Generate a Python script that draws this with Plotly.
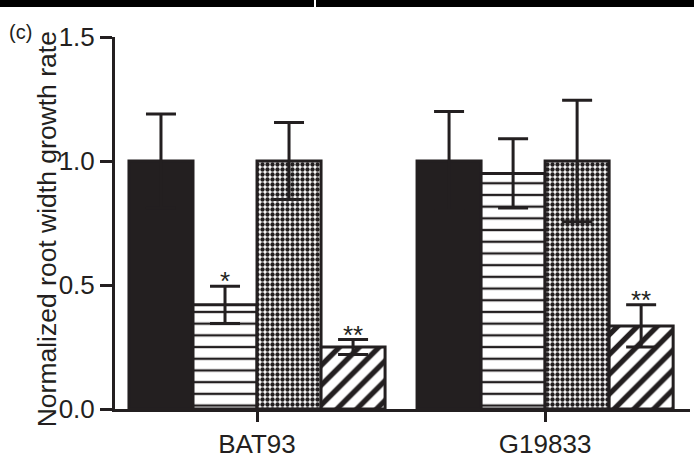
import plotly.graph_objects as go

# Data
categories = ["BAT93", "G19833"]
series_names = ["Control", "Treatment A", "Treatment B", "Treatment C"]
values = [
    [1.00, 1.00],   # solid
    [0.42, 0.95],   # horizontal lines
    [1.00, 1.00],   # checker
    [0.25, 0.335],  # diagonal hatch
]
errors = [
    [0.19, 0.20],
    [0.075, 0.14],
    [0.155, 0.245],
    [0.03, 0.085],
]
significance = [
    ["", ""],
    ["*", ""],
    ["", ""],
    ["**", "**"],
]
y_ticks = [0.0, 0.5, 1.0, 1.5]
y_ticklabels = ["0.0", "0.5", "1.0", "1.5"]

INK = "#231f20"
FONT = "Arial, Liberation Sans, Helvetica, sans-serif"

patterns = [
    dict(shape=""),
    dict(shape="-", size=11.7, solidity=0.2, fgcolor=INK, bgcolor="white", fgopacity=1),
    dict(shape=".", size=5, solidity=0.6, fgcolor=INK, bgcolor="white", fgopacity=1),
    dict(shape="/", size=14, solidity=0.38, fgcolor=INK, bgcolor="white", fgopacity=1),
]
fills = [INK, "white", "white", "white"]

x_pos = list(range(len(categories)))
bargap = 0.111
n = len(values)
bar_w = (1 - bargap) / n

fig = go.Figure()
for i in range(n):
    fig.add_trace(go.Bar(
        x=x_pos, y=values[i], name=series_names[i],
        marker=dict(color=fills[i], pattern=patterns[i],
                    line=dict(color=INK, width=3)),
        error_y=dict(type="data", array=errors[i], visible=True,
                     color=INK, thickness=3, width=15),
        showlegend=False,
    ))

annotations = []
for i in range(n):
    offset = -(1 - bargap) / 2 + bar_w * (i + 0.5)
    for j, xc in enumerate(x_pos):
        if significance[i][j]:
            annotations.append(dict(
                x=xc + offset, y=values[i][j] + errors[i][j],
                xref="x", yref="y", text=significance[i][j],
                showarrow=False, yanchor="bottom", yshift=-12,
                font=dict(size=26, color=INK, family=FONT),
            ))

# panel letter and axis title
annotations.append(dict(x=-0.1635, y=1.013, xref="paper", yref="paper",
                        xanchor="center", yanchor="middle",
                        text="(c)", showarrow=False,
                        font=dict(size=20, color=INK, family=FONT)))
annotations.append(dict(x=(47 - 115) / 575, y=(420 - 235) / 383,
                        xref="paper", yref="paper",
                        xanchor="center", yanchor="middle",
                        text="Normalized root width growth rate",
                        textangle=-90, showarrow=False,
                        font=dict(size=26.5, color=INK, family=FONT)))

# dark strip along the top edge
shapes = [
    dict(type="rect", xref="paper", yref="paper", x0=-0.21, x1=(314 - 115) / 575,
         y0=(420 - 6) / 383, y1=(420 + 2) / 383, fillcolor="black", line_width=0),
    dict(type="rect", xref="paper", yref="paper", x0=(316 - 115) / 575, x1=1.02,
         y0=(420 - 6) / 383, y1=(420 + 2) / 383, fillcolor="black", line_width=0),
]

fig.update_layout(
    width=694, height=463,
    margin=dict(l=115, r=4, t=37, b=43),
    paper_bgcolor="white", plot_bgcolor="white",
    barmode="group", bargap=bargap, bargroupgap=0,
    font=dict(family=FONT, size=26, color=INK),
    annotations=annotations, shapes=shapes,
    xaxis=dict(range=[-0.493, 1.503], tickvals=x_pos, ticktext=categories,
               showline=True, linecolor=INK, linewidth=3,
               ticks="outside", ticklen=10, tickwidth=3, tickcolor=INK,
               showgrid=False, zeroline=False,
               tickfont=dict(size=26, color=INK, family=FONT)),
    yaxis=dict(range=[0, 1.5], tickvals=y_ticks, ticktext=y_ticklabels,
               showline=True, linecolor=INK, linewidth=3,
               ticks="outside", ticklen=12, tickwidth=3, tickcolor=INK,
               showgrid=False, zeroline=False,
               tickfont=dict(size=26, color=INK, family=FONT)),
)

fig.write_html("out.html")
